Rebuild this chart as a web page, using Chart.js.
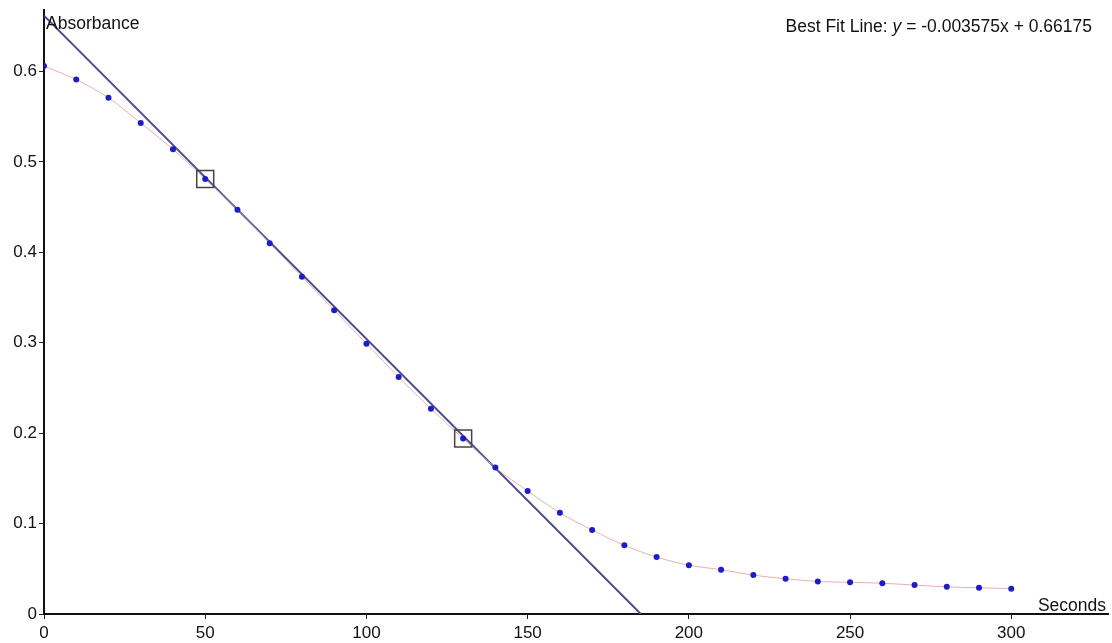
<!DOCTYPE html>
<html>
<head>
<meta charset="utf-8">
<script src="https://cdn.jsdelivr.net/npm/chart.js@4.4.1/dist/chart.umd.min.js"></script>
<style>
  html, body { margin: 0; padding: 0; background: #fff; }
  #wrap { width: 1112px; height: 643px; }
</style>
</head>
<body>
<div id="wrap"><canvas id="chart"></canvas></div>
<script>
// measured absorbance, one reading every 10 s
const seconds = [0, 10, 20, 30, 40, 50, 60, 70, 80, 90, 100, 110, 120, 130, 140, 150,
                 160, 170, 180, 190, 200, 210, 220, 230, 240, 250, 260, 270, 280, 290, 300];
const absorbance = [0.606, 0.591, 0.571, 0.543, 0.514, 0.481, 0.447, 0.410, 0.373, 0.336,
                    0.299, 0.262, 0.227, 0.194, 0.162, 0.136, 0.112, 0.093, 0.076, 0.063,
                    0.054, 0.049, 0.043, 0.039, 0.036, 0.035, 0.034, 0.032, 0.030, 0.029, 0.028];

// best fit from the label on the chart
const slope = -0.003575;
const intercept = 0.66175;
// the two selected points that bound the fit
const fitBounds = [50, 130];

const xTicks = [0, 50, 100, 150, 200, 250, 300];
const yTicks = [0, 0.1, 0.2, 0.3, 0.4, 0.5, 0.6];

const mainPoints = seconds.map((s, i) => ({ x: s, y: absorbance[i] }));
const fitLine = [{ x: 0, y: intercept }, { x: -intercept / slope, y: 0 }];
const boundPoints = fitBounds.map(s => ({ x: s, y: absorbance[seconds.indexOf(s)] }));

const FONT = '"Liberation Sans", Arial, sans-serif';
const TXT = 17.5;

const labels = {
  id: 'labels',
  afterDraw(chart) {
    const c = chart.ctx;
    const area = chart.chartArea;
    c.save();
    c.fillStyle = '#111';
    c.font = TXT + 'px ' + FONT;
    c.textBaseline = 'alphabetic';
    c.textAlign = 'left';
    c.fillText('Absorbance', area.left + 2, 29);
    c.textAlign = 'right';
    c.fillText('Seconds', area.right - 2, area.bottom - 3);

    // Best Fit Line: y = ... (y in italic)
    const pre = 'Best Fit Line: ';
    const it = 'y';
    const post = ' = -0.003575x + 0.66175';
    c.textAlign = 'left';
    c.font = TXT + 'px ' + FONT;
    const w1 = c.measureText(pre).width;
    const w3 = c.measureText(post).width;
    c.font = 'italic ' + TXT + 'px ' + FONT;
    const w2 = c.measureText(it).width;
    let x = 1092 - (w1 + w2 + w3);
    c.font = TXT + 'px ' + FONT;
    c.fillText(pre, x, 32);
    x += w1;
    c.font = 'italic ' + TXT + 'px ' + FONT;
    c.fillText(it, x, 32);
    x += w2;
    c.font = TXT + 'px ' + FONT;
    c.fillText(post, x, 32);
    c.restore();
  }
};

new Chart(document.getElementById('chart'), {
  type: 'scatter',
  data: {
    datasets: [
      {
        label: 'fit',
        data: fitLine,
        showLine: true,
        borderColor: '#4c4c8e',
        borderWidth: 2,
        pointRadius: 0,
        order: 3
      },
      {
        label: 'absorbance',
        data: mainPoints,
        showLine: true,
        tension: 0.4,
        cubicInterpolationMode: 'monotone',
        borderColor: 'rgba(226, 165, 160, 0.85)',
        borderWidth: 1,
        pointRadius: 3,
        pointBackgroundColor: '#1c1cc8',
        pointBorderColor: '#1c1cc8',
        pointBorderWidth: 0,
        order: 2
      },
      {
        label: 'bounds',
        data: boundPoints,
        showLine: false,
        pointStyle: 'rect',
        pointRadius: 12,
        pointBackgroundColor: 'rgba(0,0,0,0)',
        pointBorderColor: '#444',
        pointBorderWidth: 1.5,
        order: 1
      }
    ]
  },
  options: {
    responsive: true,
    maintainAspectRatio: false,
    animation: false,
    layout: { autoPadding: false, padding: { top: 10, right: 4, left: 0, bottom: 0 } },
    plugins: {
      legend: { display: false },
      tooltip: { enabled: false }
    },
    scales: {
      x: {
        type: 'linear',
        min: 0,
        max: 330,
        afterFit(scale) {
          scale.height = 29;
          scale.paddingLeft = 0;
          scale.paddingRight = 0;
        },
        afterBuildTicks(scale) { scale.ticks = xTicks.map(v => ({ value: v })); },
        ticks: { color: '#111', font: { family: FONT, size: 17 }, padding: 4, maxRotation: 0 },
        grid: { drawOnChartArea: false, drawTicks: true, tickLength: 5, color: '#222' },
        border: { color: '#111', width: 2 }
      },
      y: {
        type: 'linear',
        min: 0,
        max: 0.668,
        afterFit(scale) {
          scale.width = 44;
          scale.paddingTop = 0;
          scale.paddingBottom = 0;
        },
        afterBuildTicks(scale) { scale.ticks = yTicks.map(v => ({ value: v })); },
        ticks: { color: '#111', font: { family: FONT, size: 17 }, padding: 2 },
        grid: { drawOnChartArea: false, drawTicks: true, tickLength: 5, color: '#222' },
        border: { color: '#111', width: 2 }
      }
    }
  },
  plugins: [labels]
});
</script>
</body>
</html>
